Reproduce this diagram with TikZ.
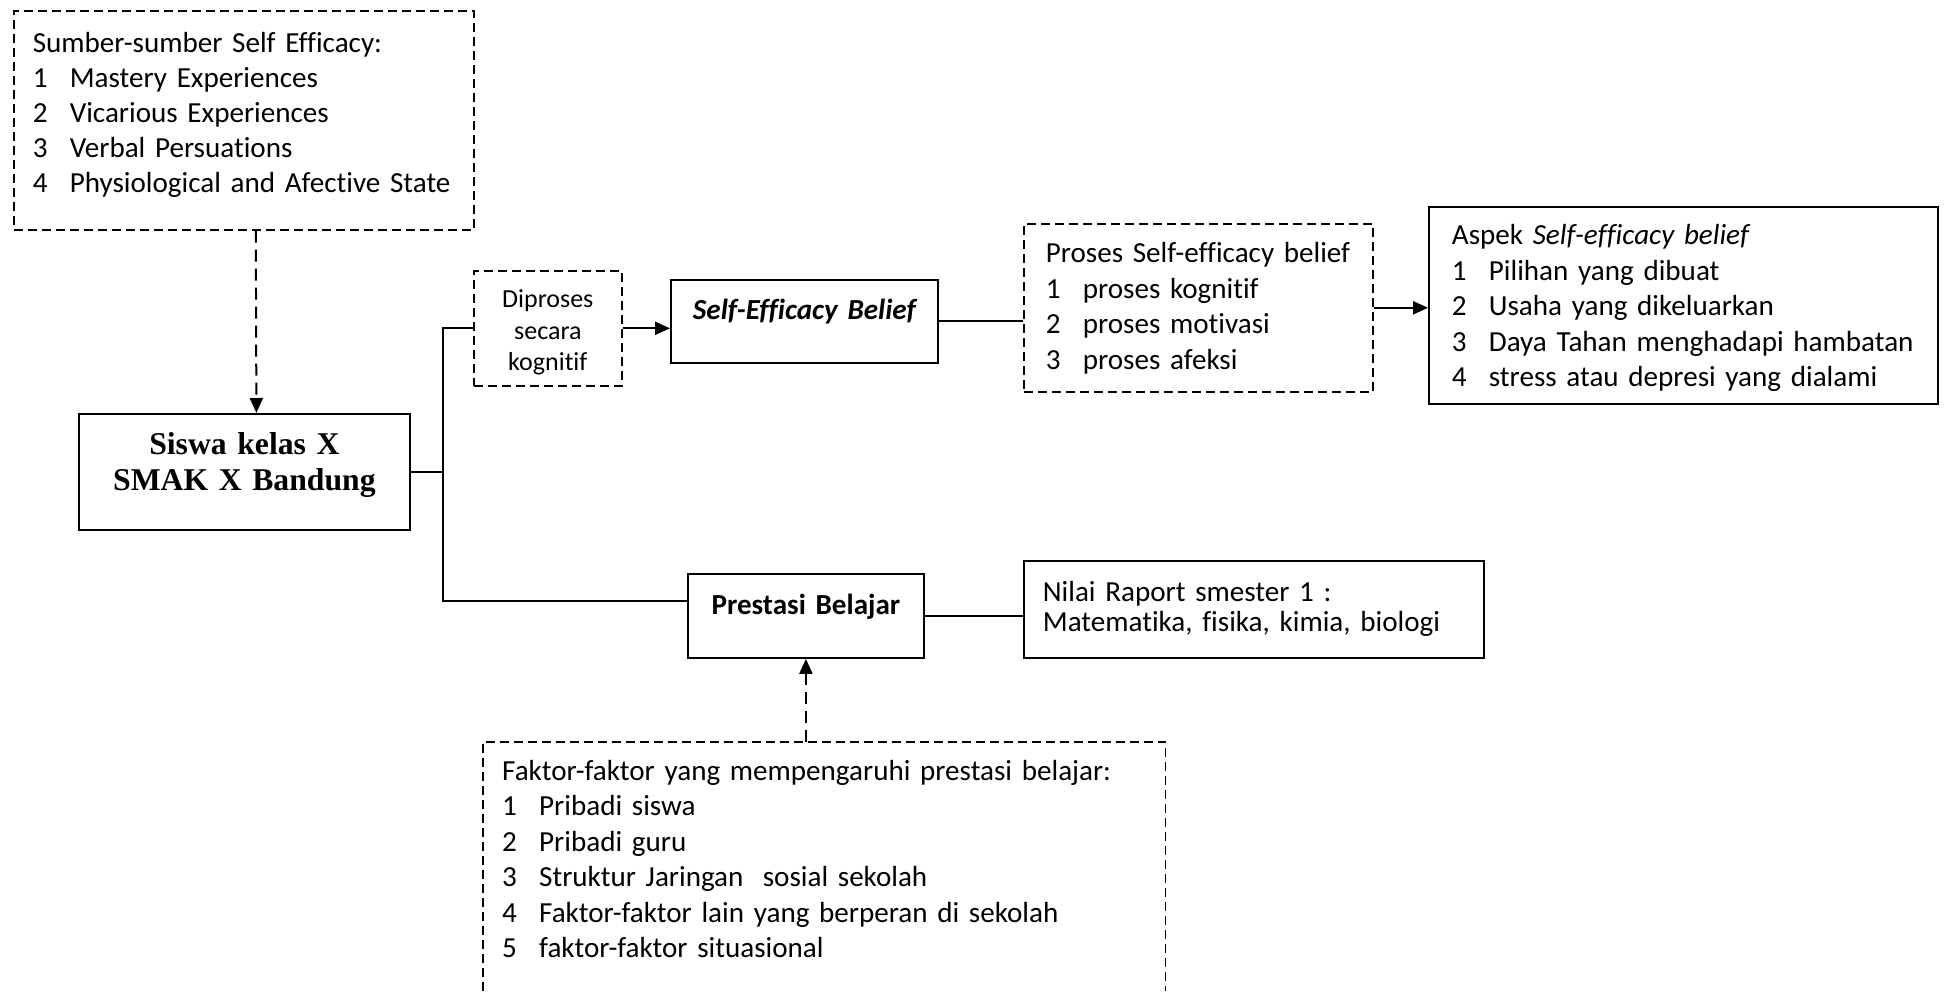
\documentclass[tikz,border=0pt]{standalone}
\usepackage{fontspec}
\setmainfont{Carlito}[Ligatures=NoCommon]
\newfontfamily\timesfont{Liberation Serif}
\usetikzlibrary{arrows.meta}
\newcommand{\butir}[2]{\makebox[37pt][l]{#1}\mbox{#2}}

\begin{document}
\begin{tikzpicture}[x=1pt, y=-1pt,
                every node/.style={font=\fontsize{29.1}{35.5}\selectfont, inner ysep=0pt, anchor=north west, align=left},
                box/.style={draw, line width=1.8pt},
                dbox/.style={draw, line width=1.6pt, dash pattern=on 9pt off 5pt},
                conn/.style={line width=2pt},
                arr/.style={conn, -{Triangle[length=15pt, width=13pt]}},
                darr/.style={arr, dash pattern=on 12pt off 7pt}]

                \useasboundingbox (0,0) rectangle (1945,991);

                \node[dbox, inner xsep=19pt, text width=422pt, text height=42pt, text depth=177pt,
                      font=\fontsize{29.1}{35}\selectfont] (sumber) at (13,10)
                    {Sumber-sumber Self Efficacy:\\
                     \butir{1}{Mastery Experiences}\\
                     \butir{2}{Vicarious Experiences}\\
                     \butir{3}{Verbal Persuations}\\
                     \butir{4}{Physiological and Afective State}};

                \node[box, inner xsep=0pt, text width=331pt, align=center, text height=41pt, text depth=75pt,
                      font=\timesfont\bfseries\fontsize{31.7}{36}\selectfont] (siswa) at (78,413)
                    {Siswa kelas X\\SMAK X Bandung};

                \node[dbox, inner xsep=0pt, text width=148pt, align=center, text height=37pt, text depth=78pt,
                      font=\fontsize{26}{31.5}\selectfont] (dip) at (473,270)
                    {Diproses\\secara\\kognitif};

                \node[box, inner xsep=0pt, text width=267pt, align=center, text height=40pt, text depth=43pt,
                      font=\fontsize{29.1}{35.5}\selectfont\bfseries\itshape] (seb) at (670,279)
                    {Self-Efficacy Belief};

                \node[dbox, inner xsep=22pt, text width=305pt, text height=39pt, text depth=129pt] (proses) at (1023,223)
                    {Proses Self-efficacy belief\\
                     \butir{1}{proses kognitif}\\
                     \butir{2}{proses motivasi}\\
                     \butir{3}{proses afeksi}};

                \node[box, inner xsep=23pt, text width=463pt, text height=38pt, text depth=159pt] (aspek) at (1428,206)
                    {Aspek \textit{Self-efficacy belief}\\
                     \butir{1}{Pilihan yang dibuat}\\
                     \butir{2}{Usaha yang dikeluarkan}\\
                     \butir{3}{Daya Tahan menghadapi hambatan}\\
                     \butir{4}{stress atau depresi yang dialami}};

                \node[box, inner xsep=0pt, text width=236pt, align=center, text height=41pt, text depth=43pt,
                      font=\fontsize{29.1}{35.5}\selectfont\bfseries] (pres) at (687,573)
                    {Prestasi Belajar};

                \node[box, inner xsep=19pt, text width=422pt, text height=41pt, text depth=56pt,
                      font=\fontsize{29.1}{30}\selectfont] (nilai) at (1023,560)
                    {Nilai Raport smester 1 :\\Matematika, fisika, kimia, biologi};

                \node[inner xsep=19pt, text width=644pt, text height=38pt, text depth=211pt] (faktor) at (483,742)
                    {Faktor-faktor yang mempengaruhi prestasi belajar:\\
                     \butir{1}{Pribadi siswa}\\
                     \butir{2}{Pribadi guru}\\
                     \butir{3}{Struktur Jaringan\ \ sosial sekolah}\\
                     \butir{4}{Faktor-faktor lain yang berperan di sekolah}\\
                     \butir{5}{faktor-faktor situasional}};
                \draw[dbox] (faktor.south west) -- (faktor.north west) -- (faktor.north east) -- (faktor.south east); % bawah terpotong

                \coordinate (knee) at ([xshift=32pt]siswa.east);

                \draw[darr] ([xshift=12pt]sumber.south) -- ([xshift=12pt]siswa.north); % sumber ke siswa
                \draw[conn] (siswa.east) -- (knee); % siswa ke cabang
                \draw[conn] (dip.west) -| (knee) |- ([yshift=15pt]pres.west); % cabang atas dan bawah
                \draw[arr] (dip.east) -- (dip.east -| seb.west); % diproses ke belief
                \draw[conn] (seb.east) -- (seb.east -| proses.west); % belief ke proses
                \draw[arr] (proses.east) -- (proses.east -| aspek.west); % proses ke aspek
                \draw[conn] (pres.east) -- (pres.east -| nilai.west); % prestasi ke nilai
                \draw[darr] (faktor.north -| pres.south) -- (pres.south); % faktor ke prestasi

\end{tikzpicture}
\end{document}
